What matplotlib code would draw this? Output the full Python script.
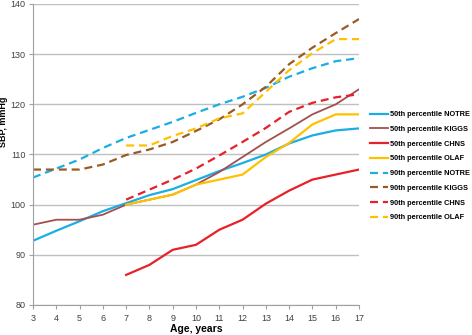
import numpy as np
import matplotlib
matplotlib.use("Agg")
import matplotlib.pyplot as plt

plt.rcParams["font.family"] = ["Liberation Sans", "DejaVu Sans"]

nan = np.nan
ages = list(range(3, 18))

# 50th percentile curves
notre50 = [92.8, 94.8, 96.7, 98.7, 100.3, 101.9, 103.1, 104.9, 106.7, 108.3, 110.0, 112.2, 113.8, 114.8, 115.2]
kiggs50 = [96.0, 97.0, 97.0, 98.0, 100.0, 101.0, 102.0, 104.0, 106.5, 109.5, 112.5, 115.2, 118.0, 120.0, 123.0]
chns50 = [nan, nan, nan, nan, 86.0, 88.0, 91.0, 92.0, 95.0, 97.0, 100.2, 102.8, 105.0, 106.0, 107.0]
olaf50 = [nan, nan, nan, nan, 100.0, 101.0, 102.0, 104.0, 105.0, 106.0, 109.5, 112.3, 116.0, 118.0, 118.0]

# 90th percentile curves
notre90 = [105.4, 107.2, 109.0, 111.3, 113.3, 114.9, 116.5, 118.3, 120.0, 121.5, 123.3, 125.5, 127.2, 128.6, 129.2]
kiggs90 = [107.0, 107.0, 107.0, 108.0, 109.9, 111.0, 112.5, 114.7, 117.0, 120.0, 123.5, 128.0, 131.3, 134.2, 137.0]
chns90 = [nan, nan, nan, nan, 101.0, 103.0, 105.0, 107.2, 109.8, 112.5, 115.3, 118.5, 120.3, 121.4, 122.0]
olaf90 = [nan, nan, nan, nan, 111.8, 111.8, 113.7, 115.2, 117.2, 118.2, 122.5, 126.8, 130.2, 133.0, 133.0]

blue = "#1aaee5"
brown_solid = "#a2504e"
brown_dash = "#9a5a25"
red = "#e8202a"
yellow = "#ffc000"

fig = plt.figure(figsize=(4.72, 3.35), dpi=100)
ax = fig.add_axes([33 / 472, 1 - 305 / 335, (359 - 33) / 472, (305 - 4) / 335])

dash = (3.6, 2.2)
ax.plot(ages, notre50, color=blue, lw=1.6, label="50th percentile NOTRE")
ax.plot(ages, kiggs50, color=brown_solid, lw=1.3, label="50th percentile KIGGS")
ax.plot(ages, chns50, color=red, lw=1.6, label="50th percentile CHNS")
ax.plot(ages, olaf50, color=yellow, lw=1.6, label="50th percentile OLAF")
ax.plot(ages, notre90, color=blue, lw=1.6, dashes=dash, label="90th percentile NOTRE")
ax.plot(ages, kiggs90, color=brown_dash, lw=1.6, dashes=dash, label="90th percentile KIGGS")
ax.plot(ages, chns90, color=red, lw=1.6, dashes=dash, label="90th percentile CHNS")
ax.plot(ages, olaf90, color=yellow, lw=1.6, dashes=dash, label="90th percentile OLAF")

ax.set_xlim(3, 17)
ax.set_ylim(80, 140)
ax.set_xticks(ages)
ax.set_yticks(range(80, 141, 10))
ax.yaxis.grid(True, color="#c0c0c0", lw=1.0)
ax.set_axisbelow(True)
for s in ["top", "right"]:
    ax.spines[s].set_visible(False)
for s in ["left", "bottom"]:
    ax.spines[s].set_color("#a0a0a0")
ax.tick_params(axis="both", colors="#a0a0a0", labelcolor="#404040", labelsize=6.5, length=3, width=0.8)
ax.tick_params(axis="y", pad=2.5)

ax.set_xlabel("Age, years", fontsize=7.5, fontweight="bold", labelpad=1)
ax.set_ylabel("SBP, mmHg", fontsize=6.5, fontweight="bold")
ax.yaxis.set_label_coords(-0.078, 0.61)

leg = ax.legend(loc="upper left", bbox_to_anchor=(370 / 472, 1 - 111 / 335),
                bbox_transform=fig.transFigure, frameon=False,
                prop={"size": 5.3, "weight": "bold"}, handlelength=2.4,
                handletextpad=0.3, labelspacing=1.03, borderpad=0, borderaxespad=0)

fig.savefig("out.png", dpi=100)
